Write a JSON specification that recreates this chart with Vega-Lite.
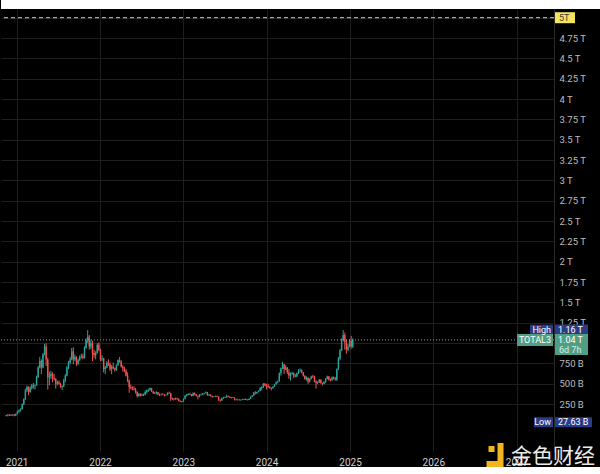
{
  "$schema": "https://vega.github.io/schema/vega-lite/v6.json",
  "background": "#000000",
  "padding": 0,
  "spacing": 0,
  "config": {
    "font": "Roboto",
    "view": {"stroke": null},
    "axis": {"gridColor": "#1e1e1e", "gridWidth": 1, "ticks": false, "labelColor": "#bdbdbd", "labelFont": "Roboto", "labelFontSize": 9.5, "title": null, "labelOverlap": false}
  },
  "datasets": {
    "candles": [
      {"d":"2020-11-16","o":105,"h":120,"l":100,"c":115},
      {"d":"2020-11-23","o":115,"h":130,"l":100,"c":110},
      {"d":"2020-11-30","o":110,"h":125,"l":105,"c":120},
      {"d":"2020-12-07","o":120,"h":124,"l":105,"c":112},
      {"d":"2020-12-14","o":112,"h":125,"l":108,"c":120},
      {"d":"2020-12-21","o":120,"h":128,"l":100,"c":110},
      {"d":"2020-12-28","o":110,"h":135,"l":105,"c":130},
      {"d":"2021-01-04","o":130,"h":170,"l":125,"c":160},
      {"d":"2021-01-11","o":160,"h":185,"l":145,"c":175},
      {"d":"2021-01-18","o":175,"h":200,"l":160,"c":190},
      {"d":"2021-01-25","o":190,"h":260,"l":185,"c":250},
      {"d":"2021-02-01","o":250,"h":320,"l":240,"c":310},
      {"d":"2021-02-08","o":310,"h":440,"l":300,"c":420},
      {"d":"2021-02-15","o":420,"h":480,"l":400,"c":460},
      {"d":"2021-02-22","o":460,"h":470,"l":360,"c":400},
      {"d":"2021-03-01","o":400,"h":470,"l":390,"c":450},
      {"d":"2021-03-08","o":450,"h":500,"l":430,"c":480},
      {"d":"2021-03-15","o":480,"h":510,"l":440,"c":470},
      {"d":"2021-03-22","o":470,"h":490,"l":430,"c":480},
      {"d":"2021-03-29","o":480,"h":600,"l":475,"c":580},
      {"d":"2021-04-05","o":580,"h":720,"l":570,"c":700},
      {"d":"2021-04-12","o":700,"h":830,"l":690,"c":780},
      {"d":"2021-04-19","o":780,"h":800,"l":620,"c":700},
      {"d":"2021-04-26","o":700,"h":880,"l":690,"c":860},
      {"d":"2021-05-03","o":860,"h":990,"l":850,"c":960},
      {"d":"2021-05-10","o":960,"h":1000,"l":720,"c":800},
      {"d":"2021-05-17","o":800,"h":820,"l":430,"c":580},
      {"d":"2021-05-24","o":580,"h":650,"l":480,"c":600},
      {"d":"2021-05-31","o":600,"h":660,"l":560,"c":620},
      {"d":"2021-06-07","o":620,"h":640,"l":520,"c":570},
      {"d":"2021-06-14","o":570,"h":620,"l":540,"c":560},
      {"d":"2021-06-21","o":560,"h":570,"l":440,"c":500},
      {"d":"2021-06-28","o":500,"h":540,"l":480,"c":520},
      {"d":"2021-07-05","o":520,"h":540,"l":490,"c":500},
      {"d":"2021-07-12","o":500,"h":510,"l":450,"c":460},
      {"d":"2021-07-19","o":460,"h":480,"l":425,"c":470},
      {"d":"2021-07-26","o":470,"h":560,"l":460,"c":540},
      {"d":"2021-08-02","o":540,"h":620,"l":520,"c":600},
      {"d":"2021-08-09","o":600,"h":720,"l":590,"c":700},
      {"d":"2021-08-16","o":700,"h":780,"l":680,"c":760},
      {"d":"2021-08-23","o":760,"h":830,"l":740,"c":800},
      {"d":"2021-08-30","o":800,"h":940,"l":790,"c":900},
      {"d":"2021-09-06","o":900,"h":950,"l":740,"c":800},
      {"d":"2021-09-13","o":800,"h":860,"l":780,"c":830},
      {"d":"2021-09-20","o":830,"h":840,"l":720,"c":750},
      {"d":"2021-09-27","o":750,"h":810,"l":730,"c":790},
      {"d":"2021-10-04","o":790,"h":850,"l":780,"c":830},
      {"d":"2021-10-11","o":830,"h":870,"l":810,"c":840},
      {"d":"2021-10-18","o":840,"h":870,"l":800,"c":820},
      {"d":"2021-10-25","o":820,"h":960,"l":810,"c":940},
      {"d":"2021-11-01","o":940,"h":1060,"l":930,"c":1040},
      {"d":"2021-11-08","o":1040,"h":1160,"l":1000,"c":1080},
      {"d":"2021-11-15","o":1080,"h":1100,"l":920,"c":960},
      {"d":"2021-11-22","o":960,"h":1040,"l":930,"c":1000},
      {"d":"2021-11-29","o":1000,"h":1030,"l":780,"c":880},
      {"d":"2021-12-06","o":880,"h":920,"l":820,"c":850},
      {"d":"2021-12-13","o":850,"h":900,"l":800,"c":880},
      {"d":"2021-12-20","o":880,"h":1000,"l":870,"c":980},
      {"d":"2021-12-27","o":980,"h":1010,"l":900,"c":920},
      {"d":"2022-01-03","o":920,"h":930,"l":780,"c":800},
      {"d":"2022-01-10","o":800,"h":850,"l":780,"c":810},
      {"d":"2022-01-17","o":810,"h":820,"l":640,"c":680},
      {"d":"2022-01-24","o":680,"h":720,"l":620,"c":700},
      {"d":"2022-01-31","o":700,"h":780,"l":690,"c":760},
      {"d":"2022-02-07","o":760,"h":800,"l":720,"c":740},
      {"d":"2022-02-14","o":740,"h":760,"l":660,"c":680},
      {"d":"2022-02-21","o":680,"h":730,"l":620,"c":710},
      {"d":"2022-02-28","o":710,"h":760,"l":680,"c":690},
      {"d":"2022-03-07","o":690,"h":700,"l":650,"c":670},
      {"d":"2022-03-14","o":670,"h":740,"l":660,"c":730},
      {"d":"2022-03-21","o":730,"h":800,"l":720,"c":790},
      {"d":"2022-03-28","o":790,"h":830,"l":760,"c":770},
      {"d":"2022-04-04","o":770,"h":790,"l":700,"c":710},
      {"d":"2022-04-11","o":710,"h":730,"l":650,"c":690},
      {"d":"2022-04-18","o":690,"h":710,"l":640,"c":660},
      {"d":"2022-04-25","o":660,"h":680,"l":590,"c":600},
      {"d":"2022-05-02","o":600,"h":640,"l":520,"c":540},
      {"d":"2022-05-09","o":540,"h":550,"l":390,"c":460},
      {"d":"2022-05-16","o":460,"h":490,"l":430,"c":450},
      {"d":"2022-05-23","o":450,"h":470,"l":420,"c":440},
      {"d":"2022-05-30","o":440,"h":470,"l":420,"c":430},
      {"d":"2022-06-06","o":430,"h":450,"l":380,"c":400},
      {"d":"2022-06-13","o":400,"h":410,"l":330,"c":350},
      {"d":"2022-06-20","o":350,"h":390,"l":340,"c":375},
      {"d":"2022-06-27","o":375,"h":385,"l":345,"c":355},
      {"d":"2022-07-04","o":355,"h":380,"l":350,"c":370},
      {"d":"2022-07-11","o":370,"h":380,"l":350,"c":365},
      {"d":"2022-07-18","o":365,"h":420,"l":360,"c":400},
      {"d":"2022-07-25","o":400,"h":430,"l":380,"c":420},
      {"d":"2022-08-01","o":420,"h":440,"l":400,"c":425},
      {"d":"2022-08-08","o":425,"h":455,"l":415,"c":445},
      {"d":"2022-08-15","o":445,"h":450,"l":400,"c":405},
      {"d":"2022-08-22","o":405,"h":410,"l":375,"c":390},
      {"d":"2022-08-29","o":390,"h":400,"l":375,"c":385},
      {"d":"2022-09-05","o":385,"h":410,"l":370,"c":395},
      {"d":"2022-09-12","o":395,"h":400,"l":360,"c":370},
      {"d":"2022-09-19","o":370,"h":380,"l":350,"c":365},
      {"d":"2022-09-26","o":365,"h":380,"l":355,"c":370},
      {"d":"2022-10-03","o":370,"h":385,"l":360,"c":368},
      {"d":"2022-10-10","o":368,"h":375,"l":345,"c":360},
      {"d":"2022-10-17","o":360,"h":370,"l":352,"c":362},
      {"d":"2022-10-24","o":362,"h":395,"l":360,"c":390},
      {"d":"2022-10-31","o":390,"h":405,"l":375,"c":385},
      {"d":"2022-11-07","o":385,"h":390,"l":290,"c":320},
      {"d":"2022-11-14","o":320,"h":330,"l":300,"c":315},
      {"d":"2022-11-21","o":315,"h":325,"l":295,"c":310},
      {"d":"2022-11-28","o":310,"h":330,"l":305,"c":320},
      {"d":"2022-12-05","o":320,"h":330,"l":305,"c":310},
      {"d":"2022-12-12","o":310,"h":320,"l":285,"c":290},
      {"d":"2022-12-19","o":290,"h":295,"l":275,"c":280},
      {"d":"2022-12-26","o":280,"h":290,"l":270,"c":285},
      {"d":"2023-01-02","o":285,"h":320,"l":280,"c":315},
      {"d":"2023-01-09","o":315,"h":360,"l":310,"c":355},
      {"d":"2023-01-16","o":355,"h":375,"l":345,"c":370},
      {"d":"2023-01-23","o":370,"h":385,"l":360,"c":375},
      {"d":"2023-01-30","o":375,"h":390,"l":360,"c":370},
      {"d":"2023-02-06","o":370,"h":375,"l":345,"c":350},
      {"d":"2023-02-13","o":350,"h":395,"l":345,"c":385},
      {"d":"2023-02-20","o":385,"h":395,"l":360,"c":370},
      {"d":"2023-02-27","o":370,"h":375,"l":345,"c":350},
      {"d":"2023-03-06","o":350,"h":355,"l":310,"c":340},
      {"d":"2023-03-13","o":340,"h":375,"l":335,"c":365},
      {"d":"2023-03-20","o":365,"h":380,"l":355,"c":370},
      {"d":"2023-03-27","o":370,"h":385,"l":360,"c":380},
      {"d":"2023-04-03","o":380,"h":390,"l":370,"c":385},
      {"d":"2023-04-10","o":385,"h":405,"l":380,"c":395},
      {"d":"2023-04-17","o":395,"h":400,"l":355,"c":360},
      {"d":"2023-04-24","o":360,"h":375,"l":350,"c":365},
      {"d":"2023-05-01","o":365,"h":370,"l":345,"c":350},
      {"d":"2023-05-08","o":350,"h":355,"l":330,"c":340},
      {"d":"2023-05-15","o":340,"h":350,"l":335,"c":345},
      {"d":"2023-05-22","o":345,"h":355,"l":340,"c":350},
      {"d":"2023-05-29","o":350,"h":355,"l":335,"c":340},
      {"d":"2023-06-05","o":340,"h":345,"l":290,"c":305},
      {"d":"2023-06-12","o":305,"h":310,"l":280,"c":295},
      {"d":"2023-06-19","o":295,"h":330,"l":290,"c":325},
      {"d":"2023-06-26","o":325,"h":340,"l":315,"c":330},
      {"d":"2023-07-03","o":330,"h":345,"l":325,"c":335},
      {"d":"2023-07-10","o":335,"h":365,"l":330,"c":350},
      {"d":"2023-07-17","o":350,"h":355,"l":335,"c":340},
      {"d":"2023-07-24","o":340,"h":345,"l":325,"c":330},
      {"d":"2023-07-31","o":330,"h":340,"l":320,"c":335},
      {"d":"2023-08-07","o":335,"h":340,"l":325,"c":330},
      {"d":"2023-08-14","o":330,"h":332,"l":295,"c":305},
      {"d":"2023-08-21","o":305,"h":315,"l":295,"c":300},
      {"d":"2023-08-28","o":300,"h":318,"l":295,"c":305},
      {"d":"2023-09-04","o":305,"h":310,"l":295,"c":300},
      {"d":"2023-09-11","o":300,"h":310,"l":290,"c":305},
      {"d":"2023-09-18","o":305,"h":315,"l":300,"c":308},
      {"d":"2023-09-25","o":308,"h":318,"l":300,"c":312},
      {"d":"2023-10-02","o":312,"h":320,"l":300,"c":305},
      {"d":"2023-10-09","o":305,"h":310,"l":295,"c":300},
      {"d":"2023-10-16","o":300,"h":320,"l":298,"c":315},
      {"d":"2023-10-23","o":315,"h":345,"l":312,"c":340},
      {"d":"2023-10-30","o":340,"h":360,"l":335,"c":355},
      {"d":"2023-11-06","o":355,"h":400,"l":350,"c":390},
      {"d":"2023-11-13","o":390,"h":410,"l":370,"c":385},
      {"d":"2023-11-20","o":385,"h":405,"l":375,"c":400},
      {"d":"2023-11-27","o":400,"h":420,"l":395,"c":415},
      {"d":"2023-12-04","o":415,"h":460,"l":410,"c":450},
      {"d":"2023-12-11","o":450,"h":470,"l":420,"c":460},
      {"d":"2023-12-18","o":460,"h":510,"l":450,"c":500},
      {"d":"2023-12-25","o":500,"h":510,"l":470,"c":480},
      {"d":"2024-01-01","o":480,"h":500,"l":430,"c":470},
      {"d":"2024-01-08","o":470,"h":500,"l":450,"c":460},
      {"d":"2024-01-15","o":460,"h":470,"l":440,"c":450},
      {"d":"2024-01-22","o":450,"h":455,"l":420,"c":445},
      {"d":"2024-01-29","o":445,"h":470,"l":440,"c":465},
      {"d":"2024-02-05","o":465,"h":500,"l":460,"c":495},
      {"d":"2024-02-12","o":495,"h":530,"l":490,"c":520},
      {"d":"2024-02-19","o":520,"h":540,"l":505,"c":530},
      {"d":"2024-02-26","o":530,"h":640,"l":525,"c":630},
      {"d":"2024-03-04","o":630,"h":700,"l":600,"c":690},
      {"d":"2024-03-11","o":690,"h":770,"l":680,"c":740},
      {"d":"2024-03-18","o":740,"h":745,"l":620,"c":680},
      {"d":"2024-03-25","o":680,"h":730,"l":670,"c":700},
      {"d":"2024-04-01","o":700,"h":705,"l":620,"c":640},
      {"d":"2024-04-08","o":640,"h":680,"l":560,"c":600},
      {"d":"2024-04-15","o":600,"h":640,"l":540,"c":620},
      {"d":"2024-04-22","o":620,"h":650,"l":610,"c":630},
      {"d":"2024-04-29","o":630,"h":640,"l":570,"c":600},
      {"d":"2024-05-06","o":600,"h":620,"l":580,"c":590},
      {"d":"2024-05-13","o":590,"h":640,"l":585,"c":630},
      {"d":"2024-05-20","o":630,"h":680,"l":620,"c":660},
      {"d":"2024-05-27","o":660,"h":690,"l":640,"c":665},
      {"d":"2024-06-03","o":665,"h":680,"l":630,"c":640},
      {"d":"2024-06-10","o":640,"h":645,"l":590,"c":600},
      {"d":"2024-06-17","o":600,"h":605,"l":550,"c":560},
      {"d":"2024-06-24","o":560,"h":590,"l":540,"c":575},
      {"d":"2024-07-01","o":575,"h":580,"l":500,"c":530},
      {"d":"2024-07-08","o":530,"h":570,"l":515,"c":560},
      {"d":"2024-07-15","o":560,"h":600,"l":555,"c":590},
      {"d":"2024-07-22","o":590,"h":610,"l":570,"c":585},
      {"d":"2024-07-29","o":585,"h":600,"l":520,"c":530},
      {"d":"2024-08-05","o":530,"h":545,"l":440,"c":510},
      {"d":"2024-08-12","o":510,"h":530,"l":495,"c":515},
      {"d":"2024-08-19","o":515,"h":560,"l":510,"c":550},
      {"d":"2024-08-26","o":550,"h":555,"l":500,"c":510},
      {"d":"2024-09-02","o":510,"h":515,"l":480,"c":500},
      {"d":"2024-09-09","o":500,"h":530,"l":495,"c":525},
      {"d":"2024-09-16","o":525,"h":570,"l":510,"c":560},
      {"d":"2024-09-23","o":560,"h":600,"l":555,"c":590},
      {"d":"2024-09-30","o":590,"h":595,"l":540,"c":550},
      {"d":"2024-10-07","o":550,"h":565,"l":530,"c":545},
      {"d":"2024-10-14","o":545,"h":590,"l":540,"c":580},
      {"d":"2024-10-21","o":580,"h":590,"l":555,"c":565},
      {"d":"2024-10-28","o":565,"h":585,"l":540,"c":550},
      {"d":"2024-11-04","o":550,"h":690,"l":535,"c":680},
      {"d":"2024-11-11","o":680,"h":830,"l":670,"c":810},
      {"d":"2024-11-18","o":810,"h":930,"l":790,"c":910},
      {"d":"2024-11-25","o":910,"h":1060,"l":900,"c":1040},
      {"d":"2024-12-02","o":1040,"h":1160,"l":1020,"c":1100},
      {"d":"2024-12-09","o":1100,"h":1130,"l":920,"c":1010},
      {"d":"2024-12-16","o":1010,"h":1040,"l":870,"c":920},
      {"d":"2024-12-23","o":920,"h":990,"l":900,"c":960},
      {"d":"2024-12-30","o":960,"h":1050,"l":950,"c":1030},
      {"d":"2025-01-06","o":1030,"h":1090,"l":930,"c":960},
      {"d":"2025-01-13","o":960,"h":1060,"l":940,"c":1040}
    ],
    "labels": [
      {"k":"High","p":1160,"t":"1.16 T"},
      {"k":"TOTAL3","p":1040,"t":"1.04 T","cd":"6d 7h"},
      {"k":"Low","p":27.63,"t":"27.63 B"},
      {"k":"Alert","p":5000,"t":"5T"}
    ],
    "wm": [{"t":"金色财经"}]
  },
  "vconcat": [
    {
      "width": 600,
      "height": 9,
      "view": {"fill": "#ffffff", "stroke": null},
      "data": {"values": [{"a": 1}]},
      "mark": {"type": "point", "opacity": 0},
      "encoding": {}
    },
    {
      "width": 553,
      "height": 443,
      "view": {"fill": "#000000", "stroke": null},
      "layer": [
        {
          "data": {"name": "candles"},
          "mark": {"type": "rule", "strokeWidth": 1},
          "encoding": {
            "x": {"field": "d", "type": "temporal",
              "scale": {"type": "utc", "domain": [{"year": 2020, "month": 11, "date": 15, "utc": true}, {"year": 2027, "month": 5, "date": 23, "utc": true}]},
              "axis": {"orient": "bottom", "format": "%Y", "grid": true, "domain": false, "labelPadding": 5, "labelFlush": false, "labelColor": "#d0d0d0", "labelFontSize": 10, "tickCount": 20,
                "values": [{"year": 2021, "month": 1, "date": 1, "utc": true}, {"year": 2022, "month": 1, "date": 1, "utc": true}, {"year": 2023, "month": 1, "date": 1, "utc": true}, {"year": 2024, "month": 1, "date": 1, "utc": true}, {"year": 2025, "month": 1, "date": 1, "utc": true}, {"year": 2026, "month": 1, "date": 1, "utc": true}, {"year": 2027, "month": 1, "date": 1, "utc": true}]}},
            "y": {"field": "l", "type": "quantitative",
              "scale": {"domain": [-338, 5107], "nice": false, "zero": false},
              "axis": {"orient": "right", "grid": true, "domain": true, "domainColor": "#2a2a2a", "labelPadding": 5, "tickCount": 40,
                "values": [250, 500, 750, 1000, 1250, 1500, 1750, 2000, 2250, 2500, 2750, 3000, 3250, 3500, 3750, 4000, 4250, 4500, 4750, 5000],
                "labelExpr": "(datum.value >= 5000 || datum.value == 1000) ? '' : (datum.value >= 1000 ? format(datum.value / 1000, '.2~f') + ' T' : datum.value + ' B')"}},
            "y2": {"field": "h"},
            "color": {"condition": {"test": "datum.c >= datum.o", "value": "#26a69a"}, "value": "#ef5350"}
          }
        },
        {
          "data": {"name": "candles"},
          "mark": {"type": "bar", "width": 1.4},
          "encoding": {
            "x": {"field": "d", "type": "temporal"},
            "y": {"field": "o", "type": "quantitative"},
            "y2": {"field": "c"},
            "color": {"condition": {"test": "datum.c >= datum.o", "value": "#26a69a"}, "value": "#ef5350"}
          }
        },
        {
          "data": {"name": "labels"},
          "transform": [{"filter": "datum.k == 'Alert'"}],
          "mark": {"type": "rule", "color": "#cfcfcf", "strokeDash": [4, 3], "strokeWidth": 1},
          "encoding": {"y": {"field": "p", "type": "quantitative"}}
        },
        {
          "data": {"name": "labels"},
          "transform": [{"filter": "datum.k == 'TOTAL3'"}],
          "mark": {"type": "rule", "color": "#9a9a9a", "strokeDash": [1, 2], "strokeWidth": 1},
          "encoding": {"y": {"field": "p", "type": "quantitative"}}
        },
        {
          "data": {"name": "labels"},
          "transform": [{"filter": "datum.k == 'High'"}],
          "mark": {"type": "rect", "color": "#2c3b85", "xOffset": -24, "x2Offset": -1, "yOffset": -5.5, "y2Offset": 5.5},
          "encoding": {"x": {"value": "width"}, "x2": {"value": "width"}, "y": {"field": "p", "type": "quantitative"}, "y2": {"field": "p"}}
        },
        {
          "data": {"name": "labels"},
          "transform": [{"filter": "datum.k == 'High'"}],
          "mark": {"type": "rect", "color": "#2c3b85", "xOffset": 1, "x2Offset": 34, "yOffset": -5.5, "y2Offset": 5.5},
          "encoding": {"x": {"value": "width"}, "x2": {"value": "width"}, "y": {"field": "p", "type": "quantitative"}, "y2": {"field": "p"}}
        },
        {
          "data": {"name": "labels"},
          "transform": [{"filter": "datum.k == 'TOTAL3'"}],
          "mark": {"type": "rect", "color": "#4f9f87", "xOffset": -37, "x2Offset": -1, "yOffset": -6, "y2Offset": 6},
          "encoding": {"x": {"value": "width"}, "x2": {"value": "width"}, "y": {"field": "p", "type": "quantitative"}, "y2": {"field": "p"}}
        },
        {
          "data": {"name": "labels"},
          "transform": [{"filter": "datum.k == 'TOTAL3'"}],
          "mark": {"type": "rect", "color": "#4f9f87", "xOffset": 1, "x2Offset": 34, "yOffset": -6, "y2Offset": 15},
          "encoding": {"x": {"value": "width"}, "x2": {"value": "width"}, "y": {"field": "p", "type": "quantitative"}, "y2": {"field": "p"}}
        },
        {
          "data": {"name": "labels"},
          "transform": [{"filter": "datum.k == 'Low'"}],
          "mark": {"type": "rect", "color": "#2c3b85", "xOffset": -20, "x2Offset": -1, "yOffset": -5, "y2Offset": 5},
          "encoding": {"x": {"value": "width"}, "x2": {"value": "width"}, "y": {"field": "p", "type": "quantitative"}, "y2": {"field": "p"}}
        },
        {
          "data": {"name": "labels"},
          "transform": [{"filter": "datum.k == 'Low'"}],
          "mark": {"type": "rect", "color": "#2c3b85", "xOffset": 1, "x2Offset": 38, "yOffset": -5, "y2Offset": 5},
          "encoding": {"x": {"value": "width"}, "x2": {"value": "width"}, "y": {"field": "p", "type": "quantitative"}, "y2": {"field": "p"}}
        },
        {
          "data": {"name": "labels"},
          "transform": [{"filter": "datum.k == 'Alert'"}],
          "mark": {"type": "rect", "color": "#f3e35f", "xOffset": 1, "x2Offset": 21, "yOffset": -5.5, "y2Offset": 5.5},
          "encoding": {"x": {"value": "width"}, "x2": {"value": "width"}, "y": {"field": "p", "type": "quantitative"}, "y2": {"field": "p"}}
        },
        {
          "data": {"name": "labels"},
          "transform": [{"filter": "datum.k != 'Alert'"}],
          "mark": {"type": "text", "color": "#ffffff", "fontSize": 9, "align": "right", "baseline": "middle", "dx": -3},
          "encoding": {"x": {"value": "width"}, "y": {"field": "p", "type": "quantitative"}, "text": {"field": "k"}}
        },
        {
          "data": {"name": "labels"},
          "transform": [{"filter": "datum.k != 'Alert'"}],
          "mark": {"type": "text", "color": "#ffffff", "fontSize": 9, "align": "left", "baseline": "middle", "dx": 4},
          "encoding": {"x": {"value": "width"}, "y": {"field": "p", "type": "quantitative"}, "text": {"field": "t"}}
        },
        {
          "data": {"name": "labels"},
          "transform": [{"filter": "datum.k == 'TOTAL3'"}],
          "mark": {"type": "text", "color": "#d6efe6", "fontSize": 9, "align": "left", "baseline": "middle", "dx": 5, "dy": 10},
          "encoding": {"x": {"value": "width"}, "y": {"field": "p", "type": "quantitative"}, "text": {"field": "cd"}}
        },
        {
          "data": {"name": "labels"},
          "transform": [{"filter": "datum.k == 'Alert'"}],
          "mark": {"type": "text", "color": "#3a3a3a", "fontSize": 9, "align": "left", "baseline": "middle", "dx": 5},
          "encoding": {"x": {"value": "width"}, "y": {"field": "p", "type": "quantitative"}, "text": {"field": "t"}}
        },
        {
          "data": {"name": "wm"},
          "mark": {"type": "point", "filled": true, "opacity": 1, "color": "#f2b41f", "size": 576, "xOffset": -59, "yOffset": 3,
            "shape": "M-0.54,-0.75H-0.04V-0.25H-0.54Z M0.21,-1H0.71V1H-0.71V0.5H0.21Z"},
          "encoding": {"x": {"value": "width"}, "y": {"value": "height"}}
        },
        {
          "data": {"name": "wm"},
          "mark": {"type": "text", "color": "#ffffff", "opacity": 0.92, "font": "Noto Sans CJK SC", "fontSize": 21, "align": "center", "baseline": "middle", "dx": -1, "dy": 5},
          "encoding": {"x": {"value": "width"}, "y": {"value": "height"}, "text": {"field": "t"}}
        }
      ]
    }
  ]
}
